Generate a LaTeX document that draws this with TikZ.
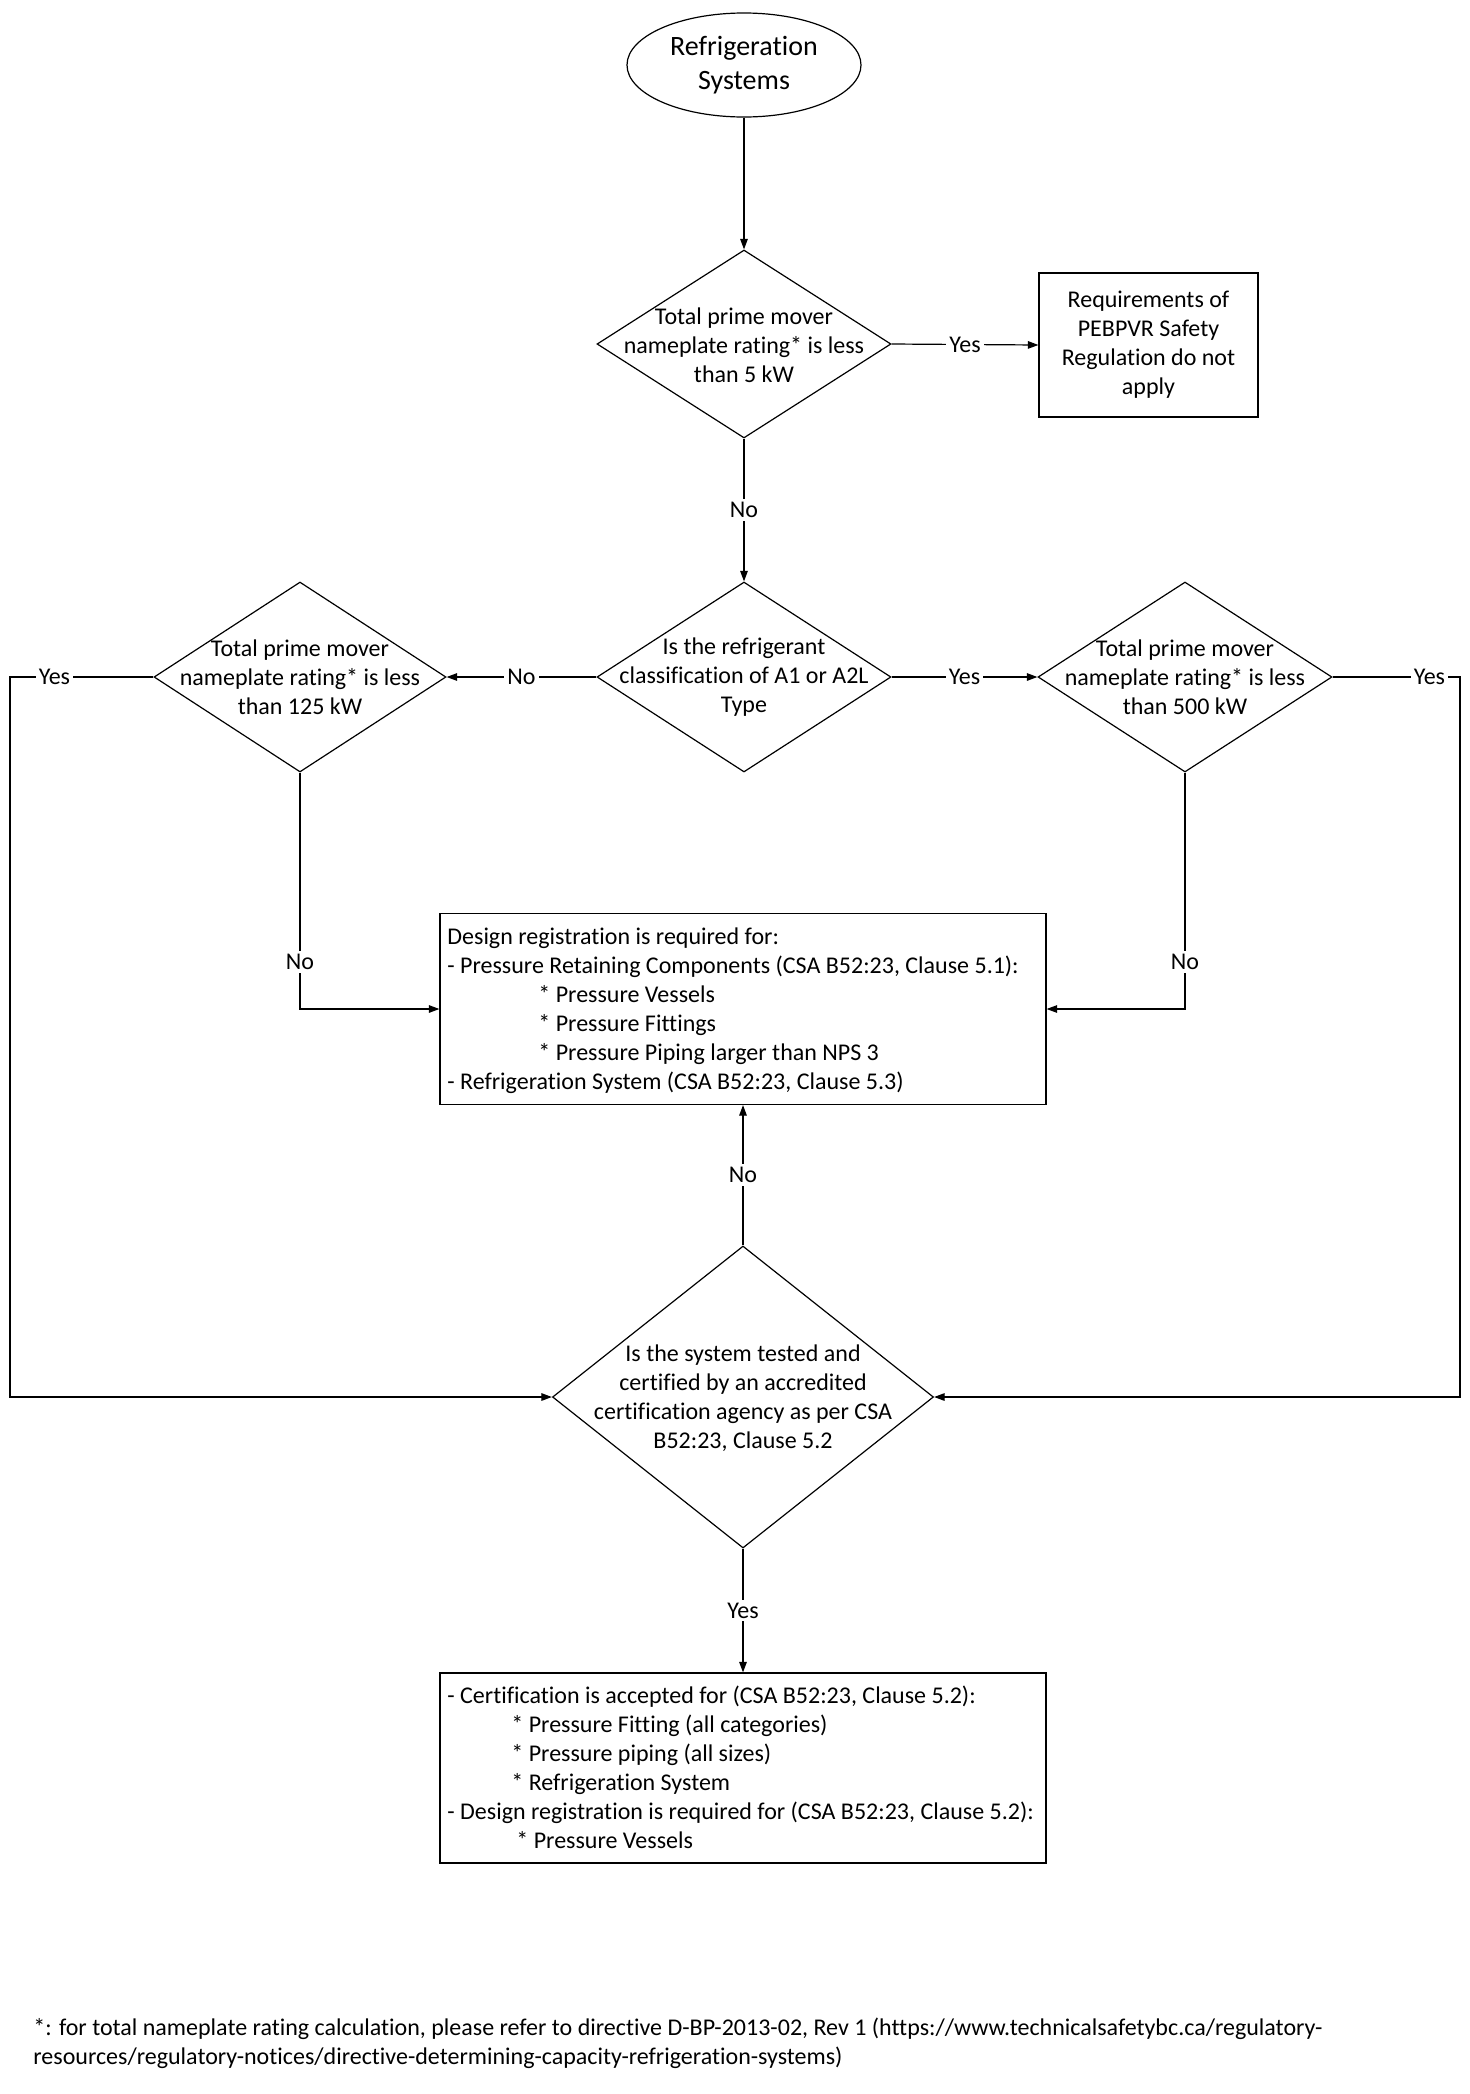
\documentclass[tikz,border=0pt]{standalone}
\usepackage{fontspec}
\setmainfont{Carlito}[Ligatures={TeX,NoCommon}]
\usetikzlibrary{shapes.geometric,arrows.meta}
\begin{document}
\begin{tikzpicture}[x=0.5pt,y=-0.5pt,
  every node/.style={font=\fontsize{12}{14.5}\selectfont},
  ln/.style={line width=0.6pt},
  arr/.style={line width=0.6pt,-{Triangle[length=5.3pt,width=3.8pt]}},
  dec/.style 2 args={diamond,draw,line width=0.6pt,inner sep=0pt,minimum width=#1,minimum height=#2},
  box/.style 2 args={rectangle,draw,line width=0.6pt,inner sep=0pt,minimum width=#1,minimum height=#2},
  txt/.style={align=center,inner sep=0pt},
  ltxt/.style={align=left,inner sep=0pt,anchor=west},
  lbl/.style={fill=white,inner sep=1.5pt}
]
\path[fill=white,use as bounding box] (0,0) rectangle (1470,2094);

% shapes
\node[ellipse,draw,line width=0.6pt,inner sep=0pt,minimum width=117pt,minimum height=52pt,align=center,
      font=\fontsize{14}{17}\selectfont] (E) at (744,65) {Refrigeration\\Systems};

\node[dec={147pt}{94pt}] (D1) at (744,344) {};
\node[txt] (D1t) at (744,345) {Total prime mover\\nameplate rating* is less\\than 5 kW};

\node[box={109.5pt}{72pt},align=center] (P) at (1148.5,345) {Requirements of\\PEBPVR Safety\\Regulation do not\\apply};

\node[dec={147pt}{95pt}] (D2) at (744,677) {};
\node[txt] (D2t) at (744,677) {Is the refrigerant\\classification of A1 or A2L\\Type};

\node[dec={146pt}{95pt}] (D3) at (300,677) {};
\node[txt] (D3t) at (300,677) {Total prime mover\\nameplate rating* is less\\than 125 kW};

\node[dec={147pt}{95pt}] (D4) at (1185,677) {};
\node[txt] (D4t) at (1185,677) {Total prime mover\\nameplate rating* is less\\than 500 kW};

\node[box={303pt}{95.5pt}] (B1) at (743,1009) {};
\node[ltxt] (B1t) at (447,1010.5) {Design registration is required for:\\
- Pressure Retaining Components (CSA B52:23, Clause 5.1):\\
\hspace*{45.5pt}* Pressure Vessels\\
\hspace*{45.5pt}* Pressure Fittings\\
\hspace*{45.5pt}* Pressure Piping larger than NPS 3\\
- Refrigeration System (CSA B52:23, Clause 5.3)};

\node[dec={190.5pt}{151pt}] (D5) at (743,1397) {};
\node[txt] (D5t) at (743,1398) {Is the system tested and\\certified by an accredited\\certification agency as per CSA\\B52:23, Clause 5.2};

\node[box={303pt}{95pt}] (B2) at (743,1768) {};
\node[ltxt] (B2t) at (447,1767) {- Certification is accepted for (CSA B52:23, Clause 5.2):\\
\hspace*{32pt}* Pressure Fitting (all categories)\\
\hspace*{32pt}* Pressure piping (all sizes)\\
\hspace*{32pt}* Refrigeration System\\
- Design registration is required for (CSA B52:23, Clause 5.2):\\
\hspace*{34.5pt}* Pressure Vessels};

\node[ltxt] (FN) at (33,2043) {*: for total nameplate rating calculation, please refer to directive D-BP-2013-02, Rev 1 (https://www.technicalsafetybc.ca/regulatory-\\
resources/regulatory-notices/directive-determining-capacity-refrigeration-systems)};

\coordinate (xL) at (10,0);
\coordinate (xR) at (1460,0);

% connectors
\draw[arr] (E.south) -- (D1.north);
\draw[arr] (D1.east) -- node[lbl]{Yes} (P.west);
\draw[arr] (D1.south) -- node[lbl]{No} (D2.north);
\draw[arr] (D2.west) -- node[lbl]{No} (D3.east);
\draw[arr] (D2.east) -- node[lbl]{Yes} (D4.west);
\draw[arr] (D3.west) -- node[lbl,pos=0.69]{Yes} (D3.west -| xL) |- (D5.west);
\draw[arr] (D4.east) -- node[lbl,pos=0.76]{Yes} (D4.east -| xR) |- (D5.east);
\draw[arr] (D3.south) |- node[lbl,pos=0.4]{No} (B1.west);
\draw[arr] (D4.south) |- node[lbl,pos=0.4]{No} (B1.east);
\draw[arr] (D5.north) -- node[lbl]{No} (D5.north |- B1.south);
\draw[arr] (D5.south) -- node[lbl]{Yes} (D5.south |- B2.north);
\end{tikzpicture}
\end{document}
